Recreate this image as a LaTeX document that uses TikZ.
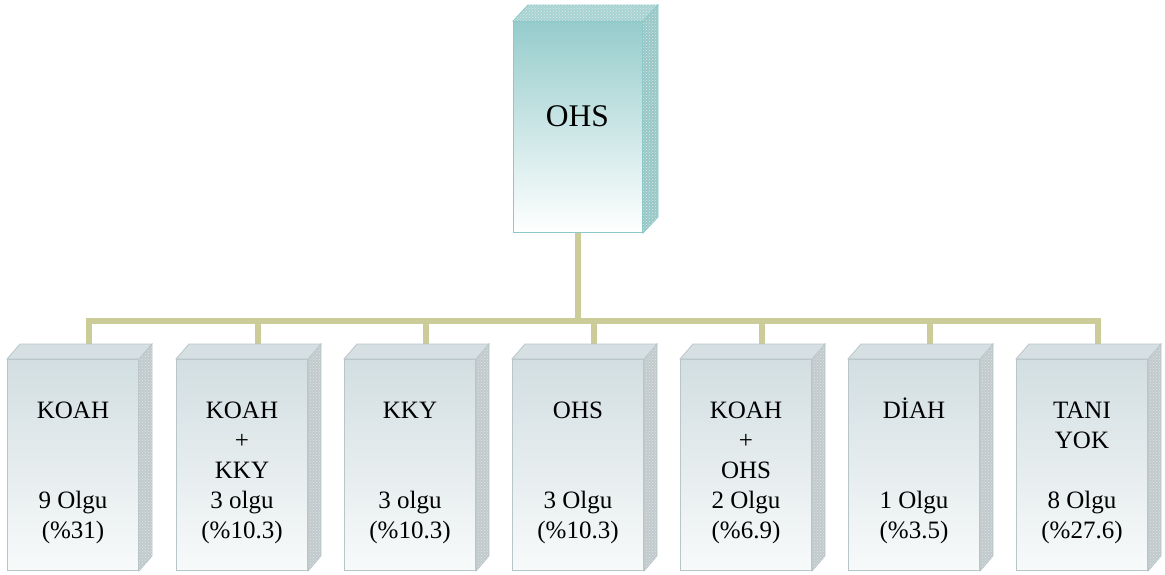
\documentclass[tikz,border=0pt]{standalone}
\usepackage{fontspec}
\setmainfont{Liberation Serif}
\usetikzlibrary{patterns,calc}

\definecolor{linkc}{RGB}{204,204,153}
\definecolor{tealedge}{RGB}{140,200,200}
\definecolor{tealtop}{RGB}{150,204,204}
\definecolor{tealside}{RGB}{150,200,200}
\definecolor{greyedge}{RGB}{184,198,202}
\definecolor{greytop}{RGB}{210,222,225}
\definecolor{greybot}{RGB}{248,250,250}
\definecolor{greyside}{RGB}{192,202,205}
\definecolor{greylid}{RGB}{214,224,227}

\newcommand\boxline[1]{\strut#1}

\tikzset{
  link/.style={draw=linkc, line width=6pt, line join=miter},
  headface/.style={rectangle, draw=tealedge, line width=1pt, inner sep=0pt,
    top color=tealtop, bottom color=white,
    minimum width=129pt, minimum height=211pt, anchor=north west},
  childface/.style={rectangle, draw=greyedge, line width=1pt, inner sep=0pt,
    top color=greytop, bottom color=greybot,
    minimum width=131pt, minimum height=211pt, anchor=north west},
  headside/.style={fill=tealside, draw=tealedge, line width=0.8pt},
  childside/.style={fill=greyside, draw=greyedge, line width=0.8pt},
  headlid/.style={fill=tealtop!85!white, draw=tealedge, line width=0.8pt},
  childlid/.style={fill=greylid, draw=greyedge, line width=0.8pt},
  grain/.style={pattern=crosshatch dots, pattern color=white!90!black},
  headtext/.style={font=\fontsize{31.5}{36}\selectfont, text=black},
  childtext/.style={font=\fontsize{25}{30}\selectfont, align=center,
    inner sep=0pt, text=black},
}

\begin{document}
\begin{tikzpicture}[x=1pt, y=-1pt]
\useasboundingbox (0,0) rectangle (1165,574);

% level of the horizontal bus
\coordinate (bus) at (0,321);

% head box front face and its position
\node[headface] (head) at (513,21) {};

% child box front faces
\foreach \i/\L in {1/7, 2/176, 3/344, 4/512, 5/680, 6/848, 7/1016}{
  \node[childface] (c\i) at (\L,359) {};
  \coordinate (k\i) at ($(c\i.north west)+(82,-10)$);
}

% connectors (drawn first so the boxes sit on top)
\draw[link] (head.south) -- (head.south |- bus);
\draw[link] (k1) -- (k1 |- bus) -- (k7 |- bus) -- (k7);
\foreach \i in {2,...,6}{
  \draw[link] (k\i |- bus) -- (k\i);
}

% head box: side and lid
\path[headside] (head.north east) -- ++(15,-16)
  -- ($(head.south east)+(15,-16)$) -- (head.south east) -- cycle;
\path[grain] (head.north east) -- ++(15,-16)
  -- ($(head.south east)+(15,-16)$) -- (head.south east) -- cycle;
\path[headlid] (head.north west) -- ++(15,-16)
  -- ($(head.north east)+(15,-16)$) -- (head.north east) -- cycle;
\path[grain] (head.north west) -- ++(15,-16)
  -- ($(head.north east)+(15,-16)$) -- (head.north east) -- cycle;
\node[headface] at (513,21) {};
\node[headtext] (headlabel) at (577.5,116) {OHS};

% child boxes: side and lid
\foreach \i in {1,...,7}{
  \path[childside] (c\i.north east) -- ++(13,-15)
    -- ($(c\i.south east)+(13,-15)$) -- (c\i.south east) -- cycle;
  \path[grain] (c\i.north east) -- ++(13,-15)
    -- ($(c\i.south east)+(13,-15)$) -- (c\i.south east) -- cycle;
  \path[childlid] (c\i.north west) -- ++(13,-15)
    -- ($(c\i.north east)+(13,-15)$) -- (c\i.north east) -- cycle;
}

% child labels
\foreach \i/\t in {
  1/{\boxline{KOAH}\\\boxline{}\\\boxline{}\\\boxline{9 Olgu}\\\boxline{(\%31)}},
  2/{\boxline{KOAH}\\\boxline{+}\\\boxline{KKY}\\\boxline{3 olgu}\\\boxline{(\%10.3)}},
  3/{\boxline{KKY}\\\boxline{}\\\boxline{}\\\boxline{3 olgu}\\\boxline{(\%10.3)}},
  4/{\boxline{OHS}\\\boxline{}\\\boxline{}\\\boxline{3 Olgu}\\\boxline{(\%10.3)}},
  5/{\boxline{KOAH}\\\boxline{+}\\\boxline{OHS}\\\boxline{2 Olgu}\\\boxline{(\%6.9)}},
  6/{\boxline{DİAH}\\\boxline{}\\\boxline{}\\\boxline{1 Olgu}\\\boxline{(\%3.5)}},
  7/{\boxline{TANI}\\\boxline{YOK}\\\boxline{}\\\boxline{8 Olgu}\\\boxline{(\%27.6)}}}{
  \node[childtext] (t\i) at ($(c\i.center)+(0,7.5)$) {\t};
}
\end{tikzpicture}
\end{document}
